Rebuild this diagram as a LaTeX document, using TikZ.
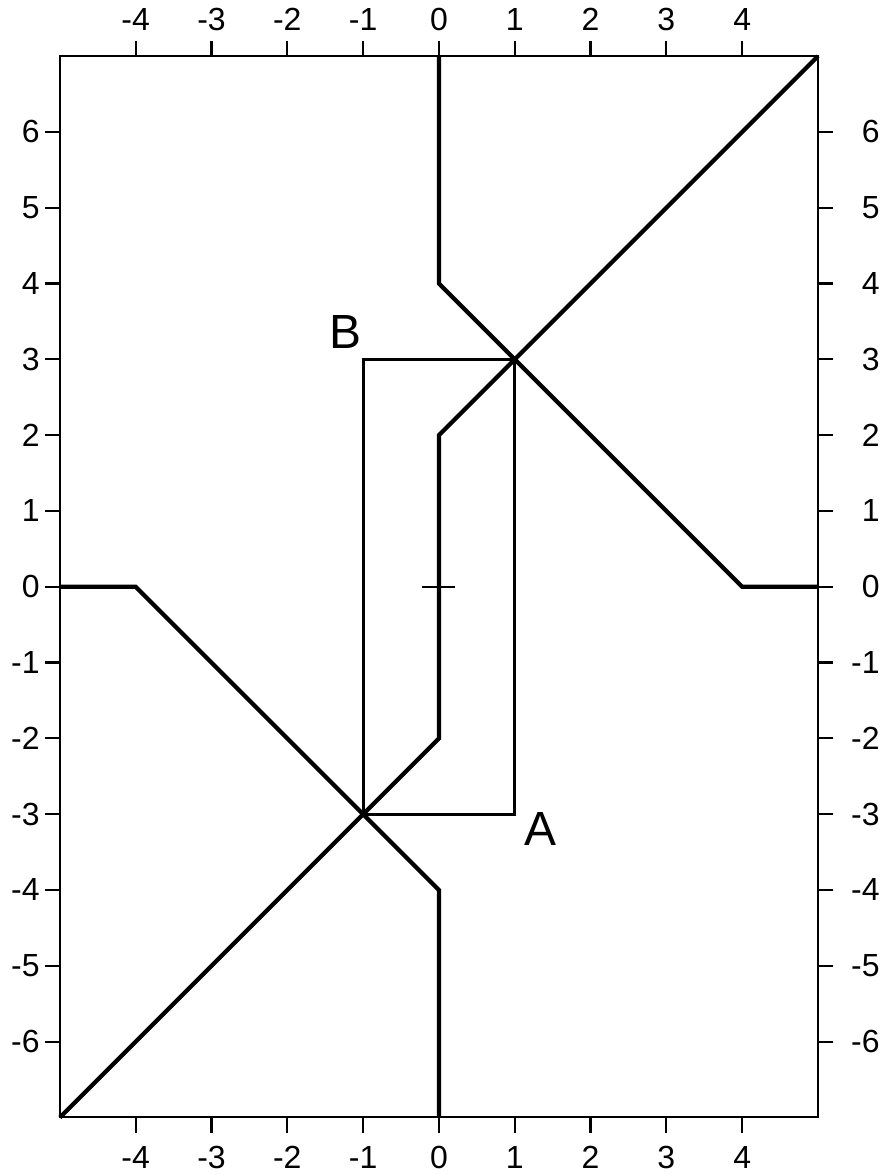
\documentclass[tikz,border=0pt]{standalone}
\usepackage{fontspec}
\setmainfont{Liberation Sans}
\usepackage{tikz}

\tikzset{
  frame/.style={line width=0.8pt},
  trace/.style={line width=1.6pt, line join=miter},
  boxline/.style={line width=1.1pt},
  ticklab/.style={font=\fontsize{12}{14}\selectfont, inner sep=0pt},
  ptlab/.style={font=\fontsize{18}{22}\selectfont, inner sep=0pt}
}

\begin{document}
\begin{tikzpicture}
        \useasboundingbox (-5.79,-7.76) rectangle (5.90,7.74);
        % frame
        \coordinate (SW) at (-5,-7);
        \coordinate (NE) at (5,7);
        \draw[frame] (SW) rectangle (NE);
        \foreach \x in {-4,...,4}{
          \coordinate (t\x) at (\x,7);
          \coordinate (b\x) at (\x,-7);
          \draw[frame] (t\x) -- ++(0,0.2) node[ticklab, above=0.12cm] {\x};
          \draw[frame] (b\x) -- ++(0,-0.2) node[ticklab, below=0.17cm] {\x};
        }
        \foreach \y in {-6,...,6}{
          \coordinate (l\y) at (-5,\y);
          \coordinate (r\y) at (5,\y);
          \draw[frame] (l\y) -- ++(-0.2,0);
          \node[ticklab, anchor=east] (ll\y) at (-5.26,\y) {\y};
          \draw[frame] (r\y) -- ++(0.2,0);
          \node[ticklab, anchor=east] (rl\y) at (5.82,\y) {\y};
        }
        % points
        \coordinate (A) at (1,-3);
        \coordinate (B) at (-1,3);
        \coordinate (Bx) at (1,3);
        \coordinate (Ax) at (-1,-3);
        \node[ptlab] (labB) at (-1.23,3.36) {B};
        \node[ptlab] (labA) at (1.34,-3.19) {A};
        % traces
        \draw[trace] (0,7) -- (0,4) -- (4,0) -- (5,0);
        \draw[trace] (SW) -- (0,-2) -- (0,2) -- (NE);
        \draw[trace] (-5,0) -- (-4,0) -- (0,-4) -- (0,-7);
        \draw[boxline] (B) -- (Bx) -- (A) -- (Ax) -- cycle;
        % origin mark
        \coordinate (o1) at (-0.22,0);
        \coordinate (o2) at (0.21,0);
        \draw[frame] (o1) -- (o2);
    \end{tikzpicture}
\end{document}
